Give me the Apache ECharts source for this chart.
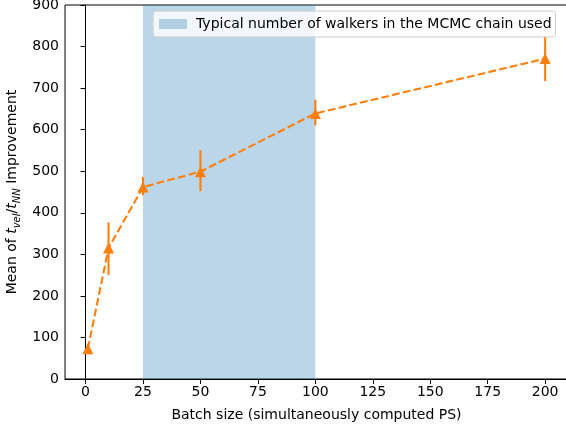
<!DOCTYPE html>
<html>
<head>
<meta charset="utf-8">
<script src="https://cdn.jsdelivr.net/npm/echarts@6/dist/echarts.min.js"></script>
<style>
  html, body { margin: 0; padding: 0; background: #fff; overflow: hidden; }
  #chart { width: 566px; height: 429px; }
</style>
</head>
<body>
<div id="chart"></div>
<script>
// values
const batchSizes = [1, 10, 25, 50, 100, 200];
const meanImprovement = [73, 315, 462, 499, 639, 771];
const errLow = [69, 250, 442, 452, 610, 717];
const errHigh = [77, 377, 486, 550, 672, 826];
const walkerBand = [25, 100];
const bandLabel = 'Typical number of walkers in the MCMC chain used';
const xTicks = [0, 25, 50, 75, 100, 125, 150, 175, 200];

const FONT = 'DejaVu Sans';
const ORANGE = '#ff7f0e';

const chart = echarts.init(document.getElementById('chart'));

const lineData = batchSizes.map((x, i) => [x, meanImprovement[i]]);
const errData = batchSizes.map((x, i) => [x, errLow[i], errHigh[i]]);

const renderBand = (params, api) => {
  const p1 = api.coord([api.value(0), 900]);
  const p2 = api.coord([api.value(1), 0]);
  return {
    type: 'rect',
    shape: {x: p1[0], y: p1[1], width: p2[0] - p1[0], height: p2[1] - p1[1]},
    style: {fill: 'rgba(31,119,180,0.3)'}
  };
};

const renderErr = (params, api) => {
  const lo = api.coord([api.value(0), api.value(1)]);
  const hi = api.coord([api.value(0), api.value(2)]);
  return {
    type: 'line',
    shape: {x1: lo[0], y1: lo[1], x2: hi[0], y2: hi[1]},
    style: {stroke: ORANGE, lineWidth: 2.1}
  };
};

const option = {
  animation: false,
  grid: {
    left: 65, width: 503, top: 5, bottom: 50,
    outerBoundsMode: 'none',
    show: true, borderColor: '#000', borderWidth: 1
  },
  legend: {
    data: [{name: bandLabel, icon: 'rect'}],
    left: 153, top: 11,
    itemWidth: 28, itemHeight: 10, itemGap: 8,
    padding: [6, 4, 6, 6],
    backgroundColor: 'rgba(255,255,255,0.8)',
    borderColor: '#cccccc', borderWidth: 1, borderRadius: 3,
    textStyle: {fontFamily: FONT, fontSize: 14, color: '#000', padding: [0, 0, 0, 4]},
    selectedMode: false
  },
  xAxis: {
    type: 'value', min: -8.95, max: 209.95,
    splitLine: {show: false},
    axisLine: {lineStyle: {color: '#000'}},
    axisTick: {length: 5, lineStyle: {color: '#000'}, customValues: xTicks},
    axisLabel: {customValues: xTicks, fontFamily: FONT, fontSize: 14, color: '#000', margin: 6},
    name: 'Batch size (simultaneously computed PS)',
    nameLocation: 'middle', nameGap: 29,
    nameTextStyle: {fontFamily: FONT, fontSize: 14, color: '#000'}
  },
  yAxis: {
    type: 'value', min: 0, max: 900, interval: 100,
    splitLine: {show: false},
    axisLine: {show: true, lineStyle: {color: '#000'}},
    axisTick: {show: true, length: 5, lineStyle: {color: '#000'}},
    axisLabel: {fontFamily: FONT, fontSize: 14, color: '#000', margin: 6}
  },
  graphic: [{
    type: 'text',
    x: 14, y: 192,
    rotation: Math.PI / 2,
    style: {
      text: '{n|Mean of }{i|t}{s|vel}{n|/}{i|t}{s|NN}{n| Improvement}',
      align: 'center', verticalAlign: 'middle',
      rich: {
        n: {fontFamily: FONT, fontSize: 14, fill: '#000', padding: [0, 0, 3, 0], verticalAlign: 'bottom'},
        i: {fontFamily: FONT, fontSize: 14, fontStyle: 'italic', fill: '#000', padding: [0, 0, 3, 0], verticalAlign: 'bottom'},
        s: {fontFamily: FONT, fontSize: 10, fontStyle: 'italic', fill: '#000', verticalAlign: 'bottom'}
      }
    }
  }],
  series: [
    {
      name: bandLabel,
      type: 'custom',
      renderItem: renderBand,
      itemStyle: {color: 'rgba(31,119,180,0.3)'},
      data: [walkerBand],
      encode: {x: [0, 1]},
      z: 1
    },
    {
      name: 'err',
      type: 'custom',
      renderItem: renderErr,
      data: errData,
      encode: {x: 0, y: [1, 2]},
      z: 2
    },
    {
      name: 'mean',
      type: 'line',
      data: lineData,
      symbol: 'triangle',
      symbolSize: 11,
      itemStyle: {color: ORANGE},
      lineStyle: {color: ORANGE, width: 2.1, type: [7.7, 3.3]},
      z: 3
    }
  ]
};

chart.setOption(option);
</script>
</body>
</html>
